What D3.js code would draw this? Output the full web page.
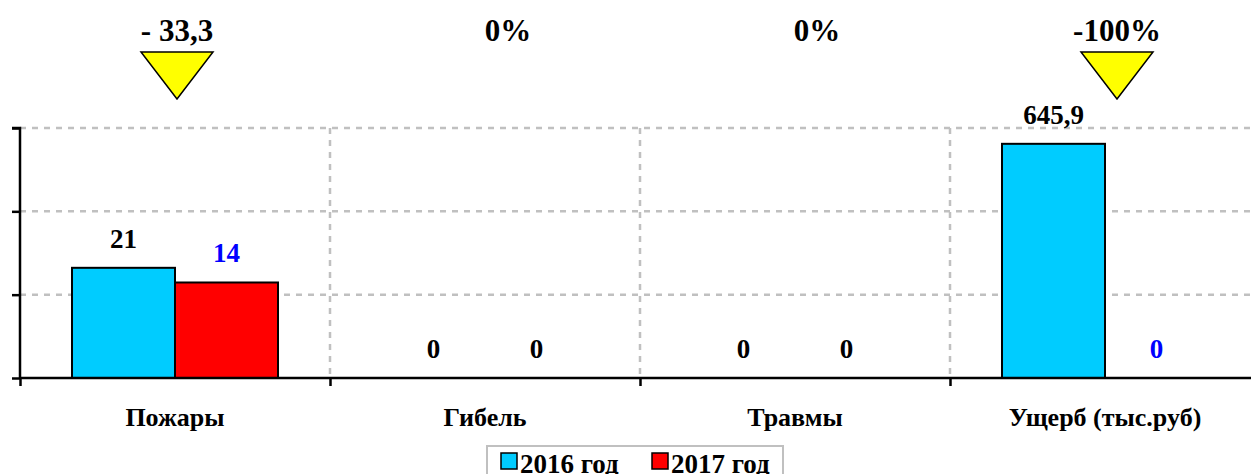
<!DOCTYPE html>
<html><head><meta charset="utf-8">
<script src="https://cdn.jsdelivr.net/npm/d3@7"></script>
<style>
html,body{margin:0;padding:0;background:#fff;overflow:hidden}
text{font-family:"Liberation Serif","Times New Roman",serif;font-weight:bold}
</style></head>
<body>
<svg id="chart" width="1251" height="474"></svg>
<script>
const categories = ["Пожары", "Гибель", "Травмы", "Ущерб (тыс.руб)"];
const seriesNames = ["2016 год", "2017 год"];
const values2016 = [21, 0, 0, 645.9];
const values2017 = [14, 0, 0, 0];
const valueLabels2016 = ["21", "0", "0", "645,9"];
const valueLabels2017 = ["14", "0", "0", "0"];
const changeLabels = ["- 33,3", "0%", "0%", "-100%"];
const changeDown = [true, false, false, true];
const yTicks = [1, 10, 100, 1000];

const colors = ["#00ccff", "#ff0000"];
const label2017Colors = ["#0000ff", "#000000", "#000000", "#0000ff"];
const changeOffsets = [2, 23, 22, 12];

const svg = d3.select("#chart");
const x0 = 20, x1 = 1260, yBottom = 378, yTop = 128;

const x = d3.scaleBand().domain(categories).range([x0, x1]).padding(0);
const bw = x.bandwidth();
const xSub = d3.scaleBand().domain(seriesNames).range([52, bw - 52]).padding(0);
const y = d3.scaleLog().domain([1, 1000]).range([yBottom, yTop]);

// gridlines horizontal
svg.append("g").selectAll("line").data(yTicks.slice(1)).join("line")
  .attr("x1", x0).attr("x2", 1251).attr("y1", d => y(d)).attr("y2", d => y(d))
  .attr("stroke", "#c0c0c0").attr("stroke-width", 2.5).attr("stroke-dasharray", "6,6");
// gridlines vertical at category boundaries
svg.append("g").selectAll("line").data(categories.slice(1)).join("line")
  .attr("x1", d => x(d)).attr("x2", d => x(d)).attr("y1", yTop).attr("y2", yBottom)
  .attr("stroke", "#c0c0c0").attr("stroke-width", 2.5).attr("stroke-dasharray", "6,6");

// bars
const data = [];
categories.forEach((c, i) => {
  data.push({c, s: seriesNames[0], v: values2016[i], lab: valueLabels2016[i], col: colors[0], lc: "#000"});
  data.push({c, s: seriesNames[1], v: values2017[i], lab: valueLabels2017[i], col: colors[1], lc: label2017Colors[i]});
});
svg.append("g").selectAll("rect").data(data.filter(d => d.v > 0)).join("rect")
  .attr("x", d => x(d.c) + xSub(d.s))
  .attr("width", xSub.bandwidth())
  .attr("y", d => y(d.v))
  .attr("height", d => yBottom - y(d.v))
  .attr("fill", d => d.col).attr("stroke", "#000").attr("stroke-width", 2);

// axes
const yAxis = d3.axisLeft(y).tickValues(yTicks).tickSize(8).tickFormat("");
const gy = svg.append("g").attr("transform", `translate(${x0},0)`).call(yAxis);
gy.select(".domain").attr("stroke", "#000").attr("stroke-width", 2.5).attr("d", `M-8,${yTop}H0V${yBottom}`);
gy.selectAll(".tick line").attr("stroke", "#000").attr("stroke-width", 2.5);

const xBound = d3.scaleLinear().domain([0, 4]).range([x0, x1]);
const xAxis = d3.axisBottom(xBound).tickValues([0, 1, 2, 3, 4]).tickSize(8).tickFormat("");
const gx = svg.append("g").attr("transform", `translate(0,${yBottom})`).call(xAxis);
gx.select(".domain").attr("stroke", "#000").attr("stroke-width", 2.5).attr("d", `M${x0},0H${x1}`);
gx.selectAll(".tick line").attr("stroke", "#000").attr("stroke-width", 2.5);

// category labels
svg.append("g").selectAll("text").data(categories).join("text")
  .attr("x", d => x(d) + bw / 2).attr("y", 426)
  .attr("text-anchor", "middle").attr("font-size", 26).text(d => d);

// value labels
svg.append("g").selectAll("text").data(data).join("text")
  .attr("x", d => x(d.c) + xSub(d.s) + xSub.bandwidth() / 2)
  .attr("y", d => (d.v > 0 ? y(d.v) : yBottom) - 20)
  .attr("text-anchor", "middle").attr("font-size", 27)
  .attr("fill", d => d.lc).text(d => d.lab);

// change labels + triangles
categories.forEach((c, i) => {
  const cx = x(c) + bw / 2 + changeOffsets[i];
  svg.append("text").attr("x", cx).attr("y", 41).attr("text-anchor", "middle")
    .attr("font-size", 31).text(changeLabels[i]);
  if (changeDown[i]) {
    svg.append("path")
      .attr("d", `M${cx - 36},52L${cx + 36},52L${cx},99Z`)
      .attr("fill", "#ffff00").attr("stroke", "#000").attr("stroke-width", 1.5);
  }
});

// legend
const lg = svg.append("g");
lg.append("rect").attr("x", 487).attr("y", 446).attr("width", 296).attr("height", 40)
  .attr("fill", "#fff").attr("stroke", "#c0c0c0").attr("stroke-width", 2);
const legX = [501, 652];
seriesNames.forEach((s, i) => {
  lg.append("rect").attr("x", legX[i]).attr("y", 453).attr("width", 16).attr("height", 16)
    .attr("fill", colors[i]).attr("stroke", "#000").attr("stroke-width", 1.5);
  lg.append("text").attr("x", legX[i] + 19).attr("y", 473).attr("font-size", 27).text(s);
});
</script>
</body></html>
